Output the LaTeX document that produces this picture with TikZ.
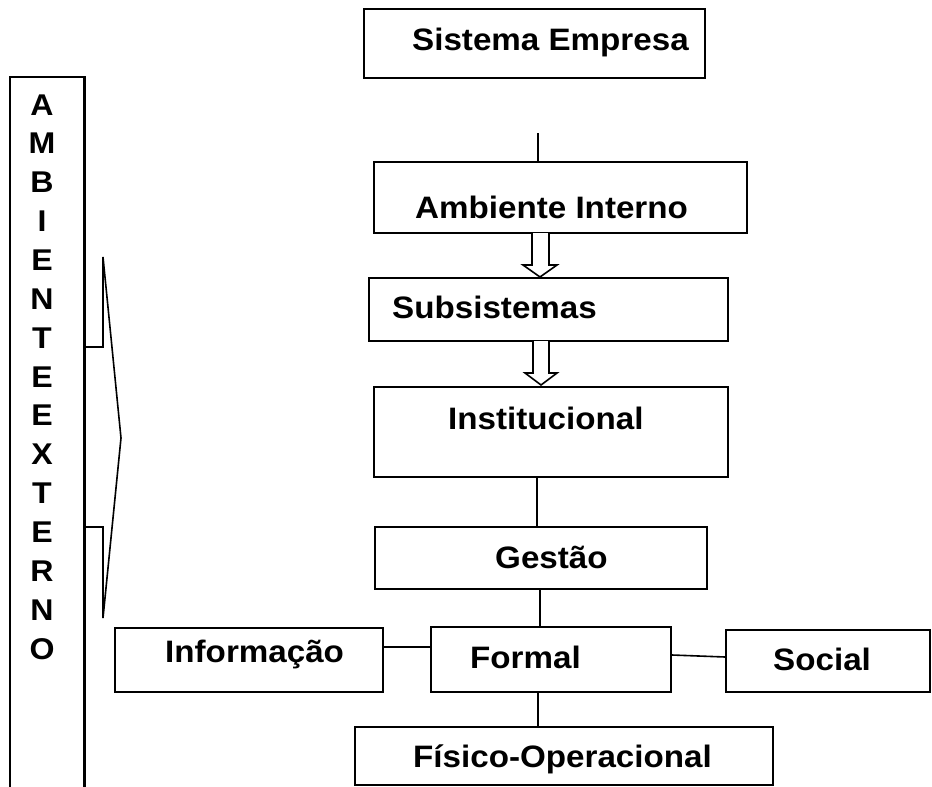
\documentclass[tikz,border=0pt]{standalone}
\usepackage{fontspec}
\setmainfont{Liberation Sans}[FakeStretch=1.07]
\usetikzlibrary{fit}
\begin{document}
\begin{tikzpicture}[x=1pt,y=-1pt,
  box/.style={draw,line width=1.8pt,inner sep=0pt,rectangle},
  txt/.style={anchor=base west,inner sep=0pt,font=\fontsize{31}{36}\selectfont\bfseries},
  let/.style={anchor=base,inner sep=0pt,font=\fontsize{30}{36}\selectfont\bfseries},
  conn/.style={line width=1.6pt},
  hollow/.style={line width=1.6pt,fill=white}]
\useasboundingbox (0,0) rectangle (932,787);
% left outer frame (open at bottom)
\draw[line width=1.4pt] (10,787) -- (10,77) -- (84,77);
\draw[line width=3pt] (84,76) -- (84,787);
% letters
\foreach \l [count=\i from 0] in {A,M,B,I,E,N,T,E,E,X,T,E,R,N,O}
  \node[let] (L\i) at (42,115+38.86*\i) {\l};
% bracket / callout shape
\draw[line width=1.6pt,line join=miter] (84,347) -- (103,347) -- (103,257) -- (121,438) -- (103,618) -- (103,527) -- (84,527);
% boxes
\node[box,fit={(364,9) (705,78)}] (se) {};
\node[txt] (tse) at (412,50) {Sistema Empresa};
\node[box,fit={(374,162) (747,233)}] (ai) {};
\node[txt] (tai) at (415,218) {Ambiente Interno};
\node[box,fit={(369,278) (728,341)}] (sub) {};
\node[txt] (tsub) at (392,318) {Subsistemas};
\node[box,fit={(374,387) (728,477)}] (inst) {};
\node[txt] (tinst) at (448,429) {Institucional};
\node[box,fit={(375,527) (707,589)}] (gest) {};
\node[txt] (tgest) at (495,568) {Gestão};
\node[box,fit={(431,627) (671,692)}] (form) {};
\node[txt] (tform) at (470,668) {Formal};
\node[box,fit={(115,628) (383,692)}] (info) {};
\node[txt] (tinfo) at (165,662) {Informação};
\node[box,fit={(726,630) (930,692)}] (soc) {};
\node[txt] (tsoc) at (773,670) {Social};
\node[box,fit={(355,727) (773,785)}] (fis) {};
\node[txt] (tfis) at (413,767) {Físico-Operacional};
% connectors
\coordinate (topfree) at (538,133);
\draw[conn] (topfree) -- (topfree |- ai.north);
\draw[conn] (537,0 |- inst.south) -- (537,0 |- gest.north);
\draw[conn] (540,0 |- gest.south) -- (540,0 |- form.north);
\draw[conn] (538,0 |- form.south) -- (538,0 |- fis.north);
\draw[conn] (0,647 -| info.east) -- (0,647 -| form.west);
\draw[conn] (0,655 -| form.east) -- (0,657 -| soc.west);
% hollow block arrows
\draw[hollow,line join=miter] (532,233) -- (532,265) -- (523,265) -- (540,277) -- (557,265) -- (549,265) -- (549,233);
\draw[hollow,line join=miter] (533,341) -- (533,373) -- (525,373) -- (541,385) -- (557,373) -- (549,373) -- (549,341);
\end{tikzpicture}
\end{document}
